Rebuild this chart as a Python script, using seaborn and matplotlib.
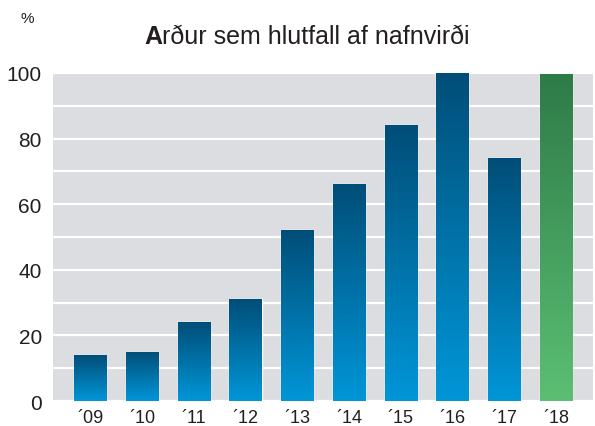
import numpy as np
import pandas as pd
import matplotlib
matplotlib.use('Agg')
import matplotlib.pyplot as plt
import seaborn as sns
from matplotlib.colors import LinearSegmentedColormap

# data
years = ['´09', '´10', '´11', '´12', '´13', '´14', '´15', '´16', '´17', '´18']
values = [14, 15, 24, 31, 52, 66, 84, 100, 74, 99.6]
series = ['blue'] * 9 + ['green']

df = pd.DataFrame({'year': years, 'value': values, 'series': series})

sns.set_style('white')
plt.rcParams['font.family'] = ['Liberation Sans', 'DejaVu Sans']

fig = plt.figure(figsize=(5.95, 4.27), dpi=100)
ax = fig.add_axes([0.089, 0.0585, 0.908, 0.7685])
ax.set_facecolor('#dcdde0')

sns.barplot(data=df, x='year', y='value', hue='series', dodge=False,
            palette={'blue': '#0077b0', 'green': '#47a160'},
            width=0.62, legend=False, ax=ax)

ax.set_yticks([0, 20, 40, 60, 80, 100])
ax.set_yticks(np.arange(0, 101, 10), minor=True)
ax.grid(True, which='both', axis='y', color='white', linewidth=1.6)
ax.set_axisbelow(True)
for s in ax.spines.values():
    s.set_visible(False)
ax.tick_params(axis='both', length=0)
ax.tick_params(axis='y', labelsize=15, pad=8, colors='#231f20')
ax.tick_params(axis='x', labelsize=13, pad=6, colors='#231f20')
ax.set_xlabel('')
ax.set_ylabel('')

# vertical gradient inside each bar
blue_cmap = LinearSegmentedColormap.from_list('b', ['#0096d8', '#004e78'])
green_cmap = LinearSegmentedColormap.from_list('g', ['#5bbf73', '#2e7b48'])
grad = np.linspace(0, 1, 256).reshape(-1, 1)
for patch in ax.patches:
    h = patch.get_height()
    if h <= 0:
        continue
    x0 = patch.get_x()
    w = patch.get_width()
    cmap = green_cmap if patch.get_facecolor()[1] > 0.5 else blue_cmap
    im = ax.imshow(grad, cmap=cmap, aspect='auto', origin='lower',
                   extent=[x0, x0 + w, 0, h], zorder=3)
    im.set_clip_path(patch)
    patch.set_zorder(2)
ax.set_xlim(-0.72, 9.72)
ax.set_ylim(0, 100)

fig.text(0.045, 0.945, '%', fontsize=11, color='#231f20', ha='center')

fig.text(0.273, 0.897, 'A', fontsize=18, fontweight='bold', color='#231f20',
         ha='right', va='baseline')
fig.text(0.273, 0.897, 'rður sem hlutfall af nafnvirði', fontsize=18,
         color='#231f20', ha='left', va='baseline')

fig.savefig('out.png', dpi=100)
